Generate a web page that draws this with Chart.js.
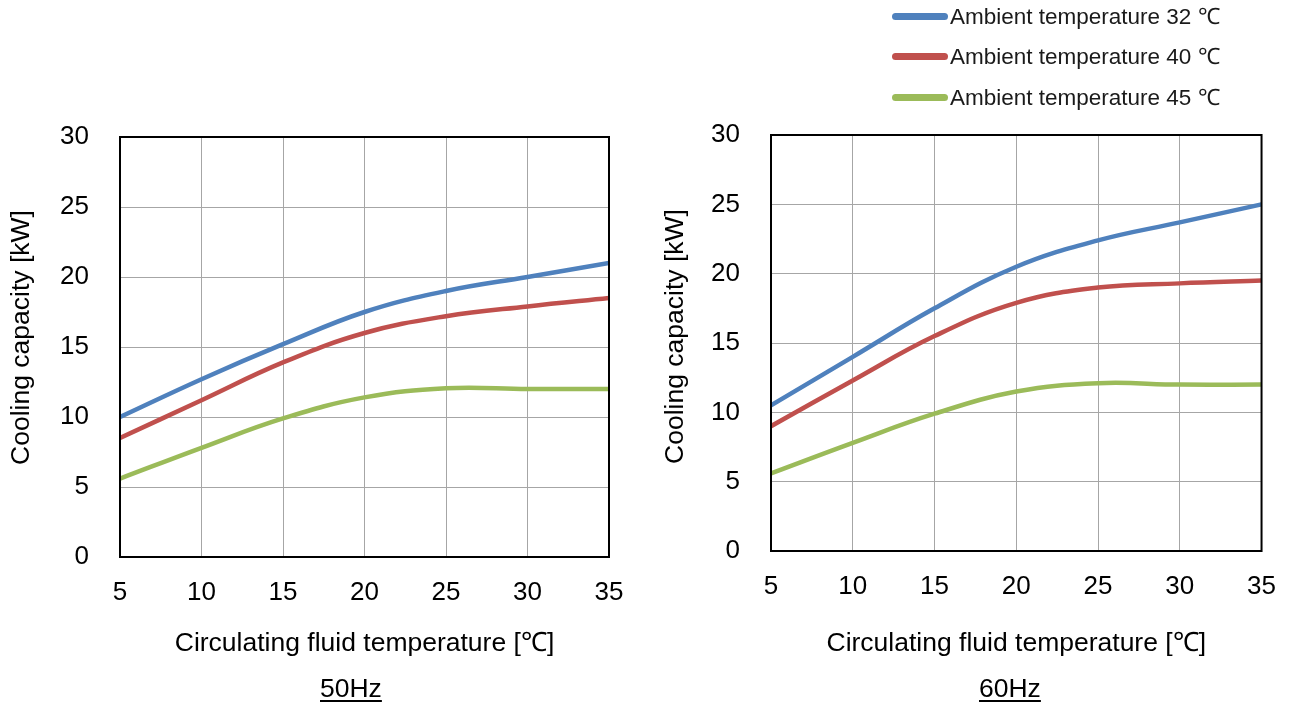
<!DOCTYPE html>
<html>
<head>
<meta charset="utf-8">
<script src="https://cdn.jsdelivr.net/npm/chart.js@4.4.1/dist/chart.umd.min.js"></script>
<style>
  html, body { margin: 0; padding: 0; background: #fff; width: 1296px; height: 704px; overflow: hidden; font-family: "Liberation Sans", Arial, sans-serif; }
  canvas { position: absolute; top: 0; }
  #c50 { left: 0; }
  #c60 { left: 648px; }
  .legend { position: absolute; left: 892px; top: 0; }
  .li { position: absolute; left: 0; height: 24px; white-space: nowrap; font-size: 22.5px; color: #1a1a1a; line-height: 24px; }
  .li span.sw { position: absolute; left: 0; top: 8.5px; width: 56px; height: 7px; border-radius: 3.5px; }
  .li span.tx { position: absolute; left: 58px; top: 1px; }
  .hz { position: absolute; top: 673px; font-size: 26.5px; line-height: 30px; color: #000; text-decoration: underline; text-underline-offset: 3px; text-decoration-thickness: 2px; }
</style>
</head>
<body>
<canvas id="c50" width="648" height="704"></canvas>
<canvas id="c60" width="648" height="704"></canvas>
<div class="legend" id="legend"></div>
<div class="hz" style="left:320px">50Hz</div>
<div class="hz" style="left:979px">60Hz</div>
<script>
// ---- data ----
const fluidTemps = [5, 10, 15, 20, 25, 30, 35];
const seriesNames = ["Ambient temperature 32 ℃", "Ambient temperature 40 ℃", "Ambient temperature 45 ℃"];
const seriesColors = ["#4F81BD", "#C0504D", "#9BBB59"];

const cap50_amb32 = [10.0, 12.7, 15.2, 17.5, 19.0, 20.0, 21.0];
const cap50_amb40 = [8.5, 11.2, 13.9, 16.0, 17.2, 17.9, 18.5];
const cap50_amb45 = [5.6, 7.8, 9.9, 11.4, 12.05, 12.0, 12.0];

const cap60_amb32 = [10.5, 14.0, 17.5, 20.5, 22.4, 23.7, 25.0];
const cap60_amb40 = [9.0, 12.3, 15.5, 17.9, 19.0, 19.3, 19.5];
const cap60_amb45 = [5.6, 7.8, 9.9, 11.5, 12.1, 12.0, 12.0];

const yTicks = [0, 5, 10, 15, 20, 25, 30];
const xTitle = "Circulating fluid temperature [℃]";
const yTitle = "Cooling capacity [kW]";

// ---- legend ----
const legendEl = document.getElementById('legend');
const legendCenters = [16, 56, 97];
seriesNames.forEach((n, i) => {
  const d = document.createElement('div');
  d.className = 'li';
  d.style.top = (legendCenters[i] - 12) + 'px';
  d.innerHTML = '<span class="sw" style="background:' + seriesColors[i] + '"></span><span class="tx"></span>';
  d.querySelector('.tx').textContent = n;
  legendEl.appendChild(d);
});

const FONT_FAMILY = '"Liberation Sans", Arial, sans-serif';

const frame = {
  id: 'frame',
  afterDatasetsDraw(chart) {
    const a = chart.chartArea;
    const ctx = chart.ctx;
    ctx.save();
    ctx.strokeStyle = '#000';
    ctx.lineWidth = 2;
    ctx.strokeRect(a.left, a.top, a.right - a.left, a.bottom - a.top);
    ctx.restore();
  }
};

const yTitlePlugin = {
  id: 'yTitlePlugin',
  afterDraw(chart, args, opts) {
    const ctx = chart.ctx;
    ctx.save();
    ctx.translate(opts.x, opts.y);
    ctx.rotate(-Math.PI / 2);
    ctx.fillStyle = '#000';
    ctx.font = '26.5px ' + FONT_FAMILY;
    ctx.textAlign = 'center';
    ctx.textBaseline = 'middle';
    ctx.fillText(opts.text, 0, 0);
    ctx.restore();
  }
};

function makeChart(id, series, cfg) {
  const tickFont = { family: FONT_FAMILY, size: 26 };
  const titleFont = { family: FONT_FAMILY, size: 26.5 };
  return new Chart(document.getElementById(id), {
    type: 'line',
    data: {
      datasets: series.map((vals, i) => ({
        label: seriesNames[i],
        data: fluidTemps.map((x, j) => ({ x: x, y: vals[j] })),
        borderColor: seriesColors[i],
        backgroundColor: seriesColors[i],
        borderWidth: 4.5,
        pointRadius: 0,
        tension: 0.4,
        fill: false
      }))
    },
    options: {
      responsive: false,
      animation: false,
      devicePixelRatio: 1,
      layout: { padding: { left: 0, top: cfg.top, right: cfg.padRight, bottom: 44 } },
      plugins: {
        legend: { display: false },
        tooltip: { enabled: false },
        yTitlePlugin: { text: yTitle, x: cfg.yTitleX, y: cfg.yTitleY }
      },
      scales: {
        x: {
          type: 'linear', min: 5, max: 35,
          afterFit: s => { s.height = cfg.xH; },
          afterBuildTicks: s => { s.ticks = fluidTemps.map(v => ({ value: v })); },
          ticks: { color: '#000', font: tickFont, padding: 20, maxRotation: 0 },
          grid: { color: '#a6a6a6', lineWidth: 1, drawTicks: false },
          border: { display: false },
          title: { display: true, text: xTitle, color: '#000', font: titleFont, padding: 0 }
        },
        y: {
          min: 0, max: 30,
          afterFit: s => { s.width = cfg.yW; },
          afterBuildTicks: s => { s.ticks = yTicks.map(v => ({ value: v })); },
          ticks: { color: '#000', font: tickFont, padding: cfg.yPad },
          grid: { color: '#a6a6a6', lineWidth: 1, drawTicks: false },
          border: { display: false },
          title: { display: false }
        }
      }
    },
    plugins: [frame, yTitlePlugin]
  });
}

makeChart('c50', [cap50_amb32, cap50_amb40, cap50_amb45], { yW: 120, top: 137, padRight: 39, xH: 103, yPad: 31, yTitleX: 22, yTitleY: 337.5 });
makeChart('c60', [cap60_amb32, cap60_amb40, cap60_amb45], { yW: 123, top: 135, padRight: 30, xH: 109, yPad: 31, yTitleX: 28, yTitleY: 336.5 });
</script>
</body>
</html>
